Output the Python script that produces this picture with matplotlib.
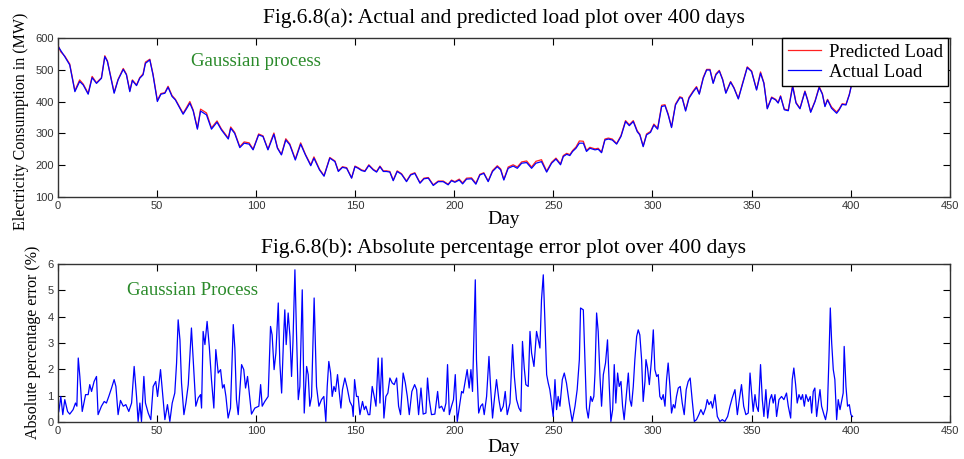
import matplotlib
matplotlib.use('Agg')
import matplotlib.pyplot as plt

# Load curve, days are where the points were read
load_days = [0, 1.5, 3.5, 6, 8.6, 11, 12.8, 15.3, 17.3, 19.5, 22, 23.7, 25, 28.4,
             30.4, 33, 34.6, 36.3, 37.6, 39.7, 41.3, 43, 44.2, 46.4, 48, 50.2,
             52, 54, 55.6, 57.6, 59.3, 63.2, 64.9, 66.6, 68.3, 70.4, 72, 75, 77.5,
             80.3, 82.5, 86, 87.2, 89.2, 91.8, 94, 96.5, 98.5, 101.3, 103.5, 106,
             107.7, 109, 110.8, 112.8, 115, 117, 119.8, 122.5, 124.9, 127.6,
             129.2, 132, 134.3, 137.2, 139.8, 141.5, 143.6, 145.7, 148.2, 149.9,
             151.5, 153.2, 154.9, 156.9, 159.1, 160.8, 162.5, 164.2, 165.8, 167.5,
             169.2, 171.2, 173.4, 175.9, 178, 180.1, 182.7, 184.7, 186.9, 189.4,
             191.9, 194.4, 196.9, 198.6, 200.3, 202.5, 204.2, 206.2, 208.7, 210.9,
             212.9, 214.9, 217.1, 219.3, 221.7, 223.4, 225, 227.2, 229.7, 231.8,
             234, 236.5, 239, 241.2, 244, 246.6, 249.1, 251.3, 253.6, 255, 256.7,
             258.3, 259.7, 261.4, 263.1, 265.1, 266.7, 268.4, 271, 272.6, 274.3,
             276, 277.7, 279.7, 281.9, 284.1, 286.4, 288.3, 290.3, 292.3, 293.6,
             295.3, 297, 299, 300.7, 302.6, 304.6, 306.3, 307.9, 309.6, 311.6,
             313.8, 315, 316.7, 318.4, 320.6, 322.2, 323.6, 325.6, 327.3, 329,
             330.6, 332, 333.7, 335.4, 337, 339.4, 341.1, 343.3, 345.3, 347.8, 350,
             352.5, 354.5, 356.2, 357.9, 360.1, 362.1, 363.4, 364.6, 366.5, 368.5,
             370.7, 372.4, 374.4, 376.9, 378.2, 379.8, 382, 384.1, 385.7, 387,
             388.3, 390.3, 392.9, 394.2, 395.7, 397.6, 399.3, 400.4]

actual_load = [575, 560, 541, 515, 431, 463, 452, 423, 475, 457, 473, 541, 526, 426,
               468, 501, 484, 431, 466, 450, 473, 484, 520, 531, 484, 400,
               423, 426, 445, 416, 405, 360, 377, 395, 370, 313, 370, 358, 313,
               335, 311, 282, 316, 300, 255, 269, 266, 248, 295, 290, 248,
               276, 297, 253, 232, 279, 264, 216, 266, 232, 198,
               222, 185, 165, 222, 211, 180, 193, 190, 159, 195,
               190, 183, 180, 199, 185, 178, 195, 180, 180, 178,
               151, 180, 171, 148, 169, 174, 143, 157, 159, 136,
               148, 148, 138, 151, 146, 153, 141, 156, 157, 140,
               169, 174, 148, 180, 195, 185, 153, 190, 197, 190,
               206, 208, 190, 206, 211, 178, 206, 219, 201, 227, 234,
               230, 243, 253, 269, 269, 243, 253, 248, 250, 239,
               279, 282, 279, 266, 290, 337, 324, 337, 305, 295,
               258, 295, 303, 326, 313, 384, 387, 358, 318, 389,
               412, 410, 370, 410, 431, 444, 423, 473, 499, 499,
               457, 484, 496, 468, 426, 461, 442, 408, 452, 507, 494,
               436, 489, 457, 377, 412, 405, 395, 416, 374, 371,
               447, 395, 377, 431, 405, 366, 400, 444, 423, 384,
               405, 379, 363, 374, 391, 389, 421, 452]

predicted_load = [578, 556, 543, 518, 434, 468, 455, 426, 479, 459, 475, 544, 528, 429,
                  470, 504, 486, 434, 468, 452, 475, 487, 524, 533, 487, 404,
                  425, 428, 448, 419, 407, 363, 381, 400, 373, 316, 376, 364, 317,
                  339, 314, 285, 320, 303, 258, 273, 270, 250, 298, 292, 250,
                  280, 301, 255, 234, 283, 267, 219, 270, 234, 201,
                  226, 187, 167, 224, 213, 182, 195, 192, 160, 197,
                  192, 185, 182, 201, 187, 180, 197, 182, 182, 180,
                  153, 182, 173, 150, 171, 176, 145, 159, 161, 138,
                  150, 150, 140, 153, 148, 156, 144, 159, 160, 143,
                  171, 176, 150, 183, 198, 188, 155, 194, 201, 194,
                  210, 213, 194, 212, 217, 181, 209, 222, 204, 230, 237,
                  233, 246, 257, 276, 275, 246, 256, 251, 253, 241,
                  282, 285, 282, 268, 293, 340, 327, 340, 308, 297,
                  260, 298, 306, 329, 316, 388, 390, 361, 320, 392,
                  415, 412, 373, 413, 434, 447, 425, 476, 501, 501,
                  459, 487, 498, 470, 428, 463, 444, 410, 455, 509, 496,
                  438, 493, 459, 379, 414, 407, 397, 418, 376, 373,
                  452, 397, 379, 433, 407, 368, 402, 447, 425, 386,
                  407, 383, 367, 377, 393, 391, 423, 452]

# Absolute percentage error (%)
err_days = [0, 0.5, 1.5, 2.5, 3.5, 4.9, 6, 7.7, 8.9, 9.6, 10.3, 11.1, 12.3, 14, 15.3,
            16.1, 17, 18.3, 19.5, 20.3, 22, 23.4, 24.5, 25.7, 27.1, 28.4, 29.3,
            30.4, 31.6, 33, 34.3, 35.8, 37.2, 38.5, 39.7, 40.5, 41.4, 42.2, 43.4,
            44.2, 45.6, 46.9, 48.1, 49.4, 50.3, 51.8, 52.6, 54, 55.3, 56.5, 57.7,
            59, 59.9, 60.7, 61.6, 62.4, 63.6, 64.6, 65.8, 67.4, 68.6, 69.6, 70.8,
            72, 72.5, 73.3, 74.2, 75.3, 76.4, 77.5, 78.7, 79.7, 80.9, 82.1, 83.1,
            83.9, 84.8, 85.9, 87.1, 88.5, 89.3, 90.1, 91, 92.7, 93.8, 94.7, 95.7,
            96.9, 97.7, 99.4, 101.4, 102.3, 103.1, 104.4, 106.1, 107.3, 108.1,
            109.1, 110, 111.2, 112, 112.9, 113.9, 114.5, 115.2, 116.2, 117.1,
            117.9, 118.6, 119.6, 120.4, 121.3, 122.1, 123.3, 124.3, 125.5, 126.3,
            127.1, 128, 129.3, 130.5, 131.7, 133, 134.2, 135.2, 135.9, 136.7,
            137.6, 138.4, 139.3, 140.1, 141.1, 142, 142.8, 143.6, 144.8, 146,
            147.3, 148.5, 149, 149.7, 150.7, 151.5, 152.4, 153.7, 154.6, 155.4,
            156.6, 157.4, 158.6, 159.6, 160.5, 161.6, 162.5, 163.5, 164.5, 165.5,
            166.5, 167.5, 168.7, 169.7, 170.9, 171.9, 172.9, 174.2, 175.3, 176.3,
            177.3, 178.6, 180, 181, 182, 183.2, 184.3, 185.7, 186.5, 187.4, 188.5,
            190.2, 191.6, 192.4, 193.6, 194.8, 195.8, 196.6, 197.5, 198.6, 199.6,
            200.5, 201.5, 202.5, 203.7, 204.5, 205.5, 206.5, 207.5, 208.4, 209.2,
            209.9, 210.6, 211.2, 212.3, 213.3, 214.3, 215.1, 216.3, 217.5, 218.3,
            219.3, 220.2, 221.3, 222.5, 223.5, 224.7, 225.7, 226.7, 228.1, 229.4,
            230.3, 231.4, 232.6, 233.6, 234.4, 235.3, 236.1, 237.3, 238.2, 239,
            240.2, 241.5, 242.4, 243.2, 244, 244.9, 245.7, 246.6, 247.4, 248.2,
            249.1, 249.9, 250.8, 251.6, 252.4, 253.3, 254.5, 255.5, 256.6, 258,
            259.5, 260.9, 262, 263.1, 263.7, 265.1, 265.9, 266.7, 267.6, 268.8,
            269.6, 270.4, 271, 271.8, 272.6, 273.5, 274.3, 275.2, 276.3, 277.3,
            278.2, 279, 279.9, 280.7, 281.5, 282.4, 283.2, 284.1, 284.9, 285.7,
            286.9, 287.8, 288.6, 289.4, 290.3, 291.1, 292, 292.8, 293.6, 294.5,
            295.3, 296.2, 296.7, 297.5, 298.4, 299.5, 300.4, 301.2, 302.1, 302.9,
            303.7, 304.6, 305.4, 306.3, 307.1, 307.9, 308.8, 309.6, 310.5, 311.3,
            312.1, 313, 314, 315, 316, 317, 318, 319, 320, 321.1, 322.2, 323.4,
            324.4, 325.6, 326.8, 327.6, 328.5, 329.5, 330.3, 331.5, 332.7, 334,
            335.2, 336.5, 337.9, 339.1, 340.2, 341.6, 342.8, 343.8, 344.9, 346,
            347.1, 348.3, 349.2, 350, 350.8, 351.7, 352.5, 353.4, 354.5, 355.4,
            356.2, 357.2, 358.1, 359.2, 360.1, 360.9, 361.8, 362.6, 363.8, 365.1,
            366.3, 367.6, 368.5, 369.7, 370.5, 371.3, 372.2, 373, 373.9, 374.9,
            375.7, 376.6, 377.4, 378.6, 379.6, 380.3, 381.1, 381.9, 382.8, 383.6,
            384.5, 385.3, 386.5, 387.3, 388.2, 389, 389.7, 390.4, 391.2, 392,
            392.9, 393.7, 394.6, 395.4, 396.2, 396.7, 397.6, 398.4, 399.3, 400.1,
            400.9]

abs_err = [0.3, 0.4, 0.97, 0.28, 0.85, 0.4, 0.3, 0.47, 0.72, 0.6, 2.43, 1.73, 0.4, 1.04, 1.04,
           1.42, 1.16, 1.54, 1.73, 0.28, 0.6, 0.78, 0.72, 0.97, 1.29, 1.61, 1.35,
           0.28, 0.82, 0.6, 0.66, 0.4, 0.72, 2.11, 0.97, 0.02, 0.72, 0.02, 1.73,
           0.72, 0.34, 0.09, 1.35, 1.54, 0.97, 1.99, 1.29, 0.09, 0.66, 0.02, 0.72,
           1.1, 2.24, 3.88, 3.12, 1.48, 0.28, 0.72, 1.42, 3.57, 1.92, 0.6, 0.91,
           1.04, 0.53, 3.44, 2.94, 3.82, 2.87, 1.61, 0.53, 2.75, 1.86, 1.99, 1.29,
           1.42, 0.97, 0.15, 0.53, 3.7, 2.81, 0.85, 0.28, 2.18, 1.99, 1.29, 1.73,
           0.85, 0.3, 0.53, 0.6, 1.42, 0.6, 0.78, 0.97, 3.63, 3.31,
           1.99, 2.62, 4.52, 2.24, 1.1, 3.25, 4.26, 2.94, 4.14, 3.25,
           1.73, 3.0, 5.78, 3.38, 0.85, 1.35, 5.02, 0.34, 2.11, 1.8,
           0.6, 0.97, 4.71, 1.35, 0.6, 0.85, 0.97, 0.02, 1.35, 2.3,
           1.86, 0.97, 1.35, 1.16, 1.8, 1.1, 0.53, 1.23, 1.67, 1.29,
           0.78, 0.6, 0.21, 1.61, 0.97, 0.97, 0.28, 0.78, 0.47, 0.6,
           0.28, 0.28, 1.35, 0.97, 0.6, 2.43, 0.72, 2.43, 0.15, 0.97,
           1.1, 1.67, 1.48, 1.42, 1.67, 0.6, 0.28, 1.86, 1.48, 0.97,
           0.28, 1.16, 1.42, 1.23, 0.28, 1.29, 0.3, 0.34, 1.67, 0.85, 0.28,
           0.3, 1.16, 0.53, 0.6, 0.4, 0.72, 2.18, 0.28, 0.6, 0.85,
           1.8, 0.02, 0.53, 1.16, 1.1, 1.54, 1.99, 1.29, 1.99, 1.16,
           3.25, 5.4, 2.37, 0.34, 0.6, 0.69, 0.28, 0.97, 2.49, 1.35,
           0.15, 0.85, 1.61, 0.85, 0.4, 0.6, 1.16, 0.28, 0.72, 2.94,
           1.73, 0.85, 0.53, 0.4, 3.06, 2.05, 1.42, 1.35, 3.44, 2.62,
           2.11, 3.44, 3.12, 2.81, 4.64, 5.59, 3.88, 1.8, 1.48, 1.23,
           0.72, 0.21, 1.61, 0.47, 0.97, 0.6, 1.61, 1.86, 1.48, 0.72,
           0.02, 0.6, 1.23, 2.37, 4.33, 4.26, 2.37, 0.53, 0.15, 0.97,
           0.78, 0.97, 1.86, 4.14, 3.44, 1.73, 0.6, 1.8, 2.24, 3.12,
           1.35, 0.02, 0.47, 2.18, 0.72, 1.86, 1.35, 1.54, 0.6, 0.09,
           1.1, 1.86, 0.85, 0.6, 1.35, 2.37, 3.25, 3.5, 3.31, 2.37,
           0.78, 1.54, 2.37, 2.05, 1.42, 2.37, 3.5, 1.99, 1.73, 1.8,
           0.97, 0.85, 1.04, 0.6, 1.61, 2.24, 1.35, 0.34, 0.66, 0.53,
           0.97, 1.29, 1.35, 0.72, 0.28, 1.23, 1.54, 1.67, 0.85, 0.02, 0.09, 0.28,
           0.47, 0.28, 0.53, 0.85, 0.66, 0.78, 0.53, 1.04, 0.21, 0.02,
           0.09, 0.02, 0.21, 0.6, 0.91, 1.23, 0.28, 0.85, 1.42, 0.6,
           0.28, 0.34, 1.86, 1.1, 0.4, 1.04, 0.6, 0.4, 2.18, 0.85,
           0.21, 1.23, 0.15, 0.85, 1.04, 0.72, 1.04, 0.21, 0.85, 0.97,
           0.85, 1.1, 0.6, 0.15, 1.61, 2.05, 1.42, 0.72, 1.04, 0.85,
           1.04, 0.6, 1.04, 0.78, 0.97, 0.34, 1.16, 1.29, 0.21, 0.72,
           1.23, 0.6, 0.28, 0.09, 0.47, 2.37, 4.33, 3.0, 1.99, 1.61,
           0.09, 0.85, 0.47, 0.78, 1.1, 2.87, 1.35, 0.6, 0.66, 0.28,
           0.21]

xticks = list(range(0, 451, 50))
load_yticks = list(range(100, 601, 100))
err_yticks = list(range(0, 7))

serif = 'Liberation Serif'
sans = 'Liberation Sans'
green = '#2a8a2a'


def style_axes(ax):
    ax.tick_params(direction='in', top=True, right=True, length=5, width=0.8,
                   labelsize=8, labelcolor='#333333', pad=3)
    for lab in ax.get_xticklabels() + ax.get_yticklabels():
        lab.set_family(sans)
    for sp in ax.spines.values():
        sp.set_color('#333333')
        sp.set_linewidth(1.0)


fig = plt.figure(figsize=(9.64, 4.59), dpi=100)

# (a) load
ax1 = fig.add_axes([0.060, 0.571, 0.9253, 0.3464])
ax1.plot(load_days, predicted_load, color='#ff2020', lw=0.9, label='Predicted Load')
ax1.plot(load_days, actual_load, color='blue', lw=0.9, label='Actual Load')
ax1.set_xlim(0, 450)
ax1.set_ylim(100, 600)
ax1.set_xticks(xticks)
ax1.set_yticks(load_yticks)
style_axes(ax1)
ax1.text(67, 525, 'Gaussian process', color=green, fontsize=13.5, family=serif,
         ha='left', va='center')
leg = ax1.legend(loc='upper right', bbox_to_anchor=(0.9985, 1.0), borderaxespad=0,
                 fancybox=False, edgecolor='black', framealpha=1,
                 prop={'family': serif, 'size': 13.5}, handlelength=1.8,
                 borderpad=0.3, labelspacing=0.15, handletextpad=0.4)
leg.get_frame().set_linewidth(1.0)

# (b) error
ax2 = fig.add_axes([0.060, 0.0806, 0.9253, 0.3442])
ax2.plot(err_days, abs_err, color='blue', lw=0.9)
ax2.set_xlim(0, 450)
ax2.set_ylim(0, 6)
ax2.set_xticks(xticks)
ax2.set_yticks(err_yticks)
style_axes(ax2)
ax2.text(35, 5.0, 'Gaussian Process', color=green, fontsize=13.5, family=serif,
         ha='left', va='center')

# titles / labels placed in figure coords
fig.text(0.5223, 1 - 18 / 459, 'Fig.6.8(a): Actual and predicted load plot over 400 days',
         ha='center', va='center', family=serif, fontsize=15.5)
fig.text(0.5223, 1 - 248 / 459, 'Fig.6.8(b): Absolute percentage error plot over 400 days',
         ha='center', va='center', family=serif, fontsize=15.5)
fig.text(0.5223, 1 - 220 / 459, 'Day', ha='center', va='center', family=serif, fontsize=14)
fig.text(0.5223, 1 - 447 / 459, 'Day', ha='center', va='center', family=serif, fontsize=14)
fig.text(21 / 964, 1 - 121 / 459, 'Electricity Consumption in (MW)', rotation=90,
         ha='center', va='center', family=serif, fontsize=11.5)
fig.text(33 / 964, 1 - 342 / 459, 'Absolute percentage error (%)', rotation=90,
         ha='center', va='center', family=serif, fontsize=11.5)

fig.savefig('out.png', dpi=100)
